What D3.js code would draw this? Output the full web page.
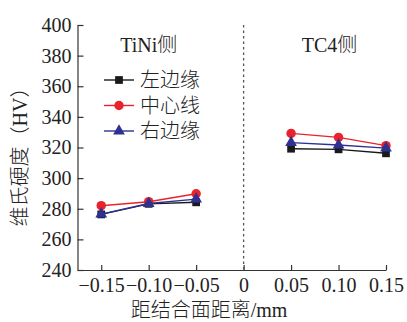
<!DOCTYPE html>
<html><head><meta charset="utf-8">
<script src="https://cdn.jsdelivr.net/npm/d3@7"></script>
<style>body{margin:0;background:#fff}svg{display:block}</style>
</head><body>
<script>
const xLeft = [-0.15, -0.10, -0.05];
const xRight = [0.05, 0.10, 0.15];
const leftEdge = [276.3, 283.2, 284.2, 319.2, 318.8, 316.2];
const centerLine = [282.0, 284.6, 289.8, 329.2, 326.6, 321.2];
const rightEdge = [276.5, 283.4, 286.3, 323.2, 321.6, 319.6];
const seriesNames = ["左边缘", "中心线", "右边缘"];
const xTicks = [-0.15, -0.10, -0.05, 0, 0.05, 0.10, 0.15];
const xTickLabels = ["\u22120.15", "\u22120.10", "\u22120.05", "0", "0.05", "0.10", "0.15"];
const yTicks = [240, 260, 280, 300, 320, 340, 360, 380, 400];
const sideLabels = ["TiNi侧", "TC4侧"];

const W = 407, H = 322;
const m = {l: 77.5, r: 21, t: 25, b: 52};
const svg = d3.select("body").append("svg").attr("width", W).attr("height", H);
const x = d3.scaleLinear().domain([-0.175, 0.15]).range([m.l, W - m.r]);
const y = d3.scaleLinear().domain([240, 400]).range([H - m.b, m.t]);
const font = "'Liberation Serif','Times New Roman','Noto Sans CJK SC',serif";
const fs = 20;

// axes
const gx = svg.append("g").attr("transform", `translate(0,${y(240)})`)
  .call(d3.axisBottom(x).tickValues(xTicks).tickFormat((d, i) => xTickLabels[i]).tickSizeInner(-5).tickSizeOuter(0).tickPadding(6));
const gy = svg.append("g").attr("transform", `translate(${m.l},0)`)
  .call(d3.axisLeft(y).tickValues(yTicks).tickSizeInner(-6).tickSizeOuter(0).tickPadding(6));
[gx, gy].forEach(g => {
  g.selectAll("path,line").attr("stroke", "#333").attr("stroke-width", 1.2);
  g.selectAll("text").attr("font-family", font).attr("font-size", fs).attr("fill", "#222");
});
gx.selectAll("text").attr("dy", "0.8em");

// dashed center line
svg.append("line").attr("x1", x(0)).attr("x2", x(0)).attr("y1", y(400)).attr("y2", y(240))
  .attr("stroke", "#555").attr("stroke-width", 1.3).attr("stroke-dasharray", "2.5,3");

// side labels
svg.selectAll("text.side").data(sideLabels).join("text").attr("class", "side")
  .attr("x", (d, i) => i === 0 ? x(-0.1) : x(0.1) - 9)
  .attr("y", 52).attr("text-anchor", "middle")
  .attr("font-family", font).attr("font-size", fs).attr("font-weight", 300).attr("fill", "#222").text(d => d);

const xs = xLeft.concat(xRight);
const series = [
  {name: seriesNames[0], vals: leftEdge, color: "#1a1a1a", shape: d3.symbolSquare, size: 60},
  {name: seriesNames[1], vals: centerLine, color: "#e8232b", shape: d3.symbolCircle, size: 70},
  {name: seriesNames[2], vals: rightEdge, color: "#2e3192", shape: d3.symbolTriangle, size: 60}
];
const line = d3.line().x(d => x(d[0])).y(d => y(d[1]));
series.forEach(s => {
  const pts = xs.map((xv, i) => [xv, s.vals[i]]);
  const g = svg.append("g");
  [pts.slice(0, 3), pts.slice(3)].forEach(seg => {
    g.append("path").attr("d", line(seg)).attr("fill", "none").attr("stroke", s.color).attr("stroke-width", 1.4);
  });
  g.selectAll("path.m").data(pts).join("path").attr("class", "m")
    .attr("transform", d => `translate(${x(d[0])},${y(d[1])})`)
    .attr("d", d3.symbol().type(s.shape).size(s.size)).attr("fill", s.color);
});

// legend
const lg = svg.append("g");
series.forEach((s, i) => {
  const yy = 80 + i * 25.5;
  lg.append("line").attr("x1", 104).attr("x2", 134).attr("y1", yy).attr("y2", yy).attr("stroke", s.color).attr("stroke-width", 1.4);
  lg.append("path").attr("transform", `translate(119,${yy})`).attr("d", d3.symbol().type(s.shape).size(s.size)).attr("fill", s.color);
  lg.append("text").attr("x", 140).attr("y", yy).attr("dy", "0.36em")
    .attr("font-family", font).attr("font-size", fs).attr("font-weight", 300).attr("fill", "#222").text(s.name);
});

// axis titles
svg.append("text").attr("transform", `translate(20,152) rotate(-90)`).attr("text-anchor", "middle").attr("dy", "0.36em")
  .attr("font-family", font).attr("font-size", fs).attr("font-weight", 300).attr("fill", "#222").text("维氏硬度（HV）");
svg.append("text").attr("x", 209).attr("y", 310).attr("dy", "0.36em").attr("text-anchor", "middle")
  .attr("font-family", font).attr("font-size", fs).attr("font-weight", 300).attr("fill", "#222").text("距结合面距离/mm");
</script>
</body></html>
